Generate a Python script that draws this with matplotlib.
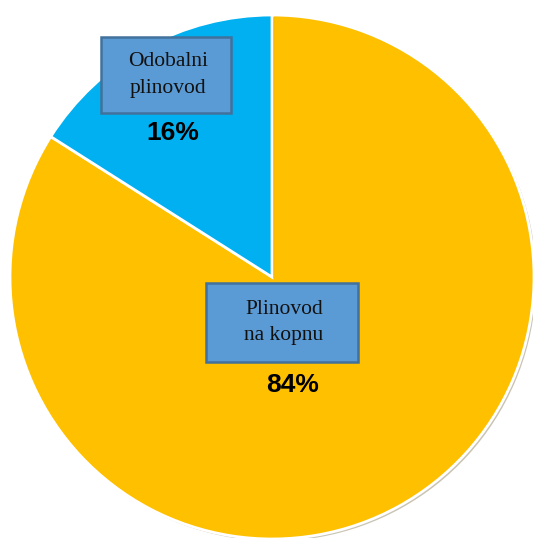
import matplotlib
matplotlib.use("Agg")
import matplotlib.pyplot as plt
import matplotlib.patheffects as pe
from matplotlib.patches import Rectangle

# podaci
kategorije = ["Plinovod\nna kopnu", "Odobalni\nplinovod"]
udjeli = [84, 16]
postoci = ["84%", "16%"]
boje = ["#FFC000", "#00B0F0"]

W, H = 533, 538
fig = plt.figure(figsize=(W / 100, H / 100), dpi=100)
ax = fig.add_axes([0, 0, 1, 1])

# pita (y os prema gore -> y_pix = H - y)
wedges, _ = ax.pie(udjeli, colors=boje, startangle=90, counterclock=False,
                   center=(272, H - 277), radius=262, frame=True,
                   wedgeprops=dict(edgecolor="white", linewidth=2))
for w in wedges:
    w.set_path_effects([pe.SimplePatchShadow(offset=(1.5, -1.5), alpha=0.3),
                        pe.Normal()])
ax.set_xlim(0, W)
ax.set_ylim(0, H)
ax.set_aspect("equal")
ax.axis("off")

# okviri s nazivima (x0, y0 gore, sirina, visina u pikselima)
okviri = [(206, 283, 152, 79), (101, 37, 130, 76)]
poz_postotka = [(293, 385), (173, 133)]

for naziv, pct, (x0, y0, bw, bh), (px, py) in zip(kategorije, postoci, okviri, poz_postotka):
    ax.add_patch(Rectangle((x0, H - y0 - bh), bw, bh, facecolor="#5B9BD5",
                           edgecolor="#41719C", linewidth=1.8, zorder=5))
    ax.text(x0 + bw / 2 + 2, H - (y0 + bh / 2), naziv, ha="center", va="center",
            family="Liberation Serif", fontsize=15.5, linespacing=1.55,
            color="#111111", zorder=6)
    ax.text(px, H - py, pct, ha="center", va="center", family="Liberation Sans",
            fontweight="bold", fontsize=19, color="black", zorder=6)

fig.savefig("out.png", dpi=100)
